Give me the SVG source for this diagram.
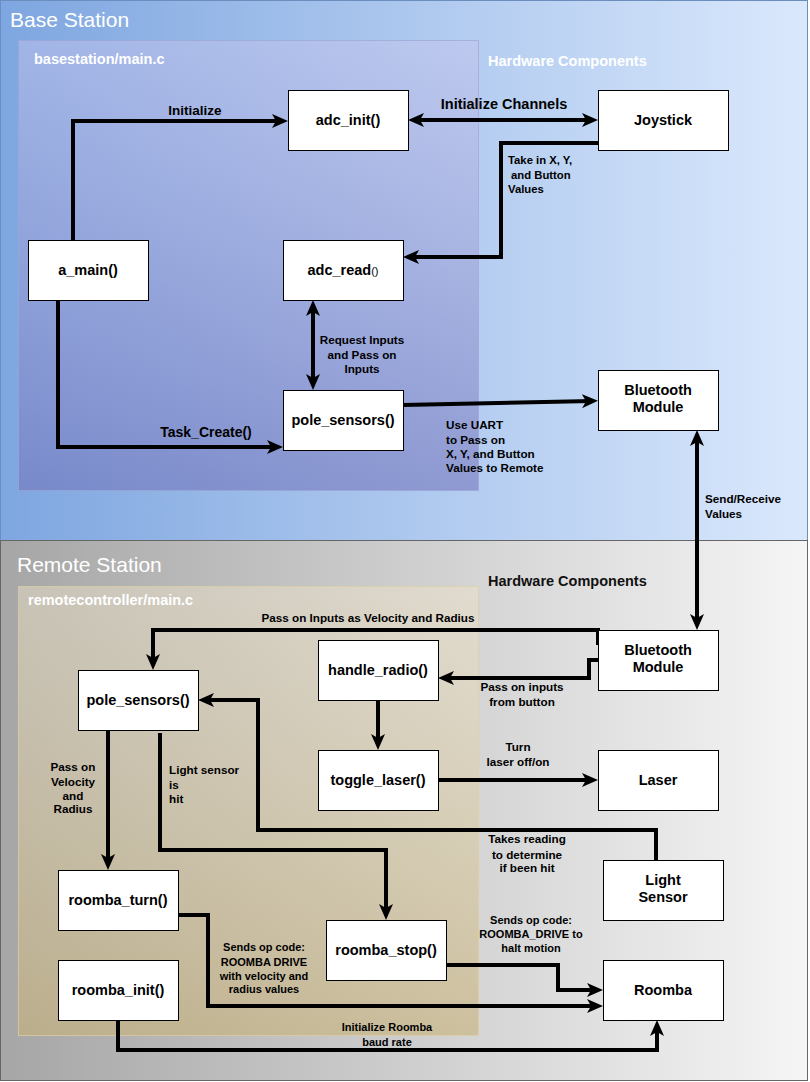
<svg xmlns="http://www.w3.org/2000/svg" width="810" height="1082" viewBox="0 0 810 1082">
<defs>
<linearGradient id="gBase" x1="0" y1="0" x2="1" y2="0"><stop offset="0" stop-color="#7ea6e0"/><stop offset="1" stop-color="#dae8fc"/></linearGradient>
<linearGradient id="gRemote" x1="0" y1="0" x2="1" y2="0"><stop offset="0" stop-color="#a6a6a6"/><stop offset="1" stop-color="#f5f5f5"/></linearGradient>
<linearGradient id="gBaseIn" x1="0" y1="0" x2="0" y2="1"><stop offset="0" stop-color="#c8c4ec" stop-opacity="0.45"/><stop offset="1" stop-color="#7070b8" stop-opacity="0.55"/></linearGradient>
<linearGradient id="gRemIn" x1="0" y1="0" x2="0" y2="1"><stop offset="0" stop-color="#efe4c8" stop-opacity="0.45"/><stop offset="1" stop-color="#c8b27a" stop-opacity="0.6"/></linearGradient>
<marker id="arr" viewBox="0 0 16 14" markerUnits="userSpaceOnUse" markerWidth="16" markerHeight="14" refX="10" refY="7" orient="auto-start-reverse"><path d="M0,0 L16,7 L0,14 L4,7 Z" fill="#000"/></marker>
<style>
.node rect{fill:#fff;stroke:#000;stroke-width:1}
.nt{font-family:"Liberation Sans",Arial,sans-serif;font-weight:bold;font-size:14.5px;text-anchor:middle;fill:#000}
.lb{font-family:"Liberation Sans",Arial,sans-serif;font-weight:bold;font-size:11.7px;fill:#000}
.s{font-size:11px}
.c{text-anchor:middle}
.conn path{fill:none;stroke:#000;stroke-width:4;stroke-linejoin:miter}
.e{marker-end:url(#arr)}
.b{marker-start:url(#arr);marker-end:url(#arr)}
.title{font-family:"Liberation Sans",Arial,sans-serif;font-size:21px;fill:#fff}
.sub{font-family:"Liberation Sans",Arial,sans-serif;font-weight:bold;font-size:14.5px}
</style>
</defs>
<g id="panels">
<rect x="0.5" y="0.5" width="807" height="540" fill="url(#gBase)" stroke="#6c8ebf"/>
<rect x="0.5" y="540.5" width="807" height="540" fill="url(#gRemote)" stroke="#666"/>
<rect x="18.5" y="40.5" width="460" height="450" fill="url(#gBaseIn)" stroke="#a0a4d4" stroke-opacity="0.7"/>
<rect x="18.5" y="586.5" width="460" height="449" fill="url(#gRemIn)" stroke="#e0cfa0" stroke-opacity="0.7"/>
<text class="title" x="10" y="27">Base Station</text>
<text class="sub" x="34" y="64" fill="#fff">basestation/main.c</text>
<text class="sub" x="488" y="66" fill="#fff">Hardware Components</text>
<text class="title" x="17" y="572">Remote Station</text>
<text class="sub" x="28" y="605" fill="#fff">remotecontroller/main.c</text>
<text class="sub" x="488" y="586" fill="#111">Hardware Components</text>
</g>
<g class="conn" id="connectors">
<path class="e" d="M73,240 V121 H282"/>
<path class="b" d="M414,120 H592"/>
<path class="e" d="M601,143 H501 V257 H409"/>
<path class="b" d="M313,306 V384"/>
<path class="e" d="M58,300 V447 H277"/>
<path class="e" d="M403,405 L592,401"/>
<path class="b" d="M697,436 V624"/>
<path class="e" d="M598,645 V630 H153 V664"/>
<path class="e" d="M598,660 H589 V678 H444"/>
<path class="e" d="M378,700 V744"/>
<path class="e" d="M438,780 H592"/>
<path class="e" d="M656,860 V830 H258 V700 H204"/>
<path class="e" d="M108,730 V864"/>
<path class="e" d="M160,733 V850 H386 V914"/>
<path class="e" d="M178,915 H208 V1006 H597"/>
<path class="e" d="M446,965 H558 V990 H597"/>
<path class="e" d="M118,1020 V1050 H657 V1026"/>
</g>
<g id="labels">
<text class="lb c" x="195" y="115" style="font-size:13.5px">Initialize</text>
<text class="lb c" x="504" y="109" style="font-size:14.5px">Initialize Channels</text>
<text class="lb" x="508" y="164" style="font-size:11.3px">Take in X, Y,</text>
<text class="lb" x="511" y="179" style="font-size:11.3px">and Button</text>
<text class="lb" x="508" y="193" style="font-size:11.3px">Values</text>
<text class="lb c" x="362" y="344">Request Inputs</text>
<text class="lb c" x="362" y="359">and Pass on</text>
<text class="lb c" x="362" y="373">Inputs</text>
<text class="lb c" x="206" y="437" style="font-size:14px">Task_Create()</text>
<text class="lb" x="446" y="429">Use UART</text>
<text class="lb" x="446" y="444">to Pass on</text>
<text class="lb" x="446" y="458">X, Y, and Button</text>
<text class="lb" x="446" y="472">Values to Remote</text>
<text class="lb" x="705" y="503">Send/Receive</text>
<text class="lb" x="705" y="518">Values</text>
<text class="lb c" x="368" y="622">Pass on Inputs as Velocity and Radius</text>
<text class="lb c" x="522" y="691">Pass on inputs</text>
<text class="lb c" x="522" y="706">from button</text>
<text class="lb c" x="518" y="751">Turn</text>
<text class="lb c" x="518" y="766">laser off/on</text>
<text class="lb c" x="527" y="843">Takes reading</text>
<text class="lb c" x="527" y="859">to determine</text>
<text class="lb c" x="527" y="872">if been hit</text>
<text class="lb c" x="73" y="771">Pass on</text>
<text class="lb c" x="73" y="786">Velocity</text>
<text class="lb c" x="73" y="800">and</text>
<text class="lb c" x="73" y="813">Radius</text>
<text class="lb" x="169" y="774">Light sensor</text>
<text class="lb" x="169" y="789">is</text>
<text class="lb" x="169" y="803">hit</text>
<text class="lb c s" x="264" y="951">Sends op code:</text>
<text class="lb c s" x="264" y="966">ROOMBA DRIVE</text>
<text class="lb c s" x="264" y="980">with velocity and</text>
<text class="lb c s" x="264" y="993">radius values</text>
<text class="lb c s" x="531" y="924">Sends op code:</text>
<text class="lb c s" x="531" y="938">ROOMBA_DRIVE to</text>
<text class="lb c s" x="531" y="952">halt motion</text>
<text class="lb c s" x="387" y="1031">Initialize Roomba</text>
<text class="lb c s" x="387" y="1046">baud rate</text>
</g>
<g id="adc_init" class="node"><rect x="288.5" y="90.5" width="120" height="60"/><text class="nt" x="348" y="125">adc_init()</text></g>
<g id="joystick" class="node"><rect x="598.5" y="90.5" width="130" height="60"/><text class="nt" x="663" y="125">Joystick</text></g>
<g id="a_main" class="node"><rect x="28.5" y="240.5" width="120" height="60"/><text class="nt" x="88" y="275">a_main()</text></g>
<g id="adc_read" class="node"><rect x="283.5" y="240.5" width="120" height="60"/><text class="nt" x="343" y="275">adc_read<tspan style="font-weight:normal;font-size:11px">()</tspan></text></g>
<g id="pole_sensors_base" class="node"><rect x="283.5" y="390.5" width="120" height="60"/><text class="nt" x="343" y="425">pole_sensors()</text></g>
<g id="bt_base" class="node"><rect x="598.5" y="370.5" width="120" height="60"/><text class="nt" x="658" y="395">Bluetooth</text><text class="nt" x="658" y="412">Module</text></g>
<g id="bt_remote" class="node"><rect x="598.5" y="630.5" width="120" height="60"/><text class="nt" x="658" y="655">Bluetooth</text><text class="nt" x="658" y="672">Module</text></g>
<g id="pole_sensors_remote" class="node"><rect x="78.5" y="670.5" width="120" height="60"/><text class="nt" x="138" y="705">pole_sensors()</text></g>
<g id="handle_radio" class="node"><rect x="318.5" y="640.5" width="120" height="60"/><text class="nt" x="378" y="675">handle_radio()</text></g>
<g id="toggle_laser" class="node"><rect x="318.5" y="750.5" width="120" height="60"/><text class="nt" x="378" y="785">toggle_laser()</text></g>
<g id="laser" class="node"><rect x="598.5" y="750.5" width="120" height="60"/><text class="nt" x="658" y="785">Laser</text></g>
<g id="light_sensor" class="node"><rect x="603.5" y="860.5" width="120" height="60"/><text class="nt" x="663" y="885">Light</text><text class="nt" x="663" y="902">Sensor</text></g>
<g id="roomba_turn" class="node"><rect x="58.5" y="870.5" width="120" height="60"/><text class="nt" x="118" y="905">roomba_turn()</text></g>
<g id="roomba_stop" class="node"><rect x="326.5" y="920.5" width="120" height="60"/><text class="nt" x="386" y="955">roomba_stop()</text></g>
<g id="roomba_init" class="node"><rect x="58.5" y="960.5" width="120" height="60"/><text class="nt" x="118" y="995">roomba_init()</text></g>
<g id="roomba" class="node"><rect x="603.5" y="960.5" width="120" height="60"/><text class="nt" x="663" y="995">Roomba</text></g>
</svg>
